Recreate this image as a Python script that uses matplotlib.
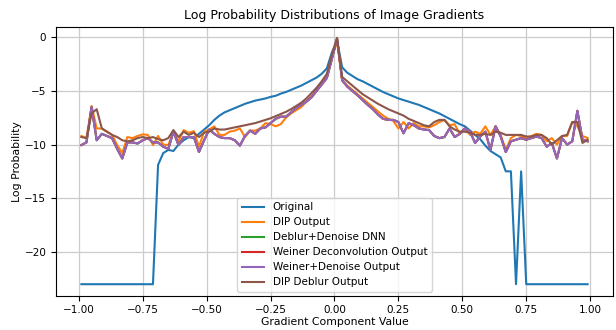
import matplotlib
matplotlib.use('Agg')
import matplotlib.pyplot as plt
import numpy as np

# bin centres of a 100-bin histogram on [-1, 1]
grad_values = np.round(np.arange(-0.99, 1.0, 0.02), 2)

original = [
    -23.03, -23.03, -23.03, -23.03, -23.03, -23.03, -23.03, -23.03, -23.03, -23.03,
    -23.03, -23.03, -23.03, -23.03, -23.03, -11.9, -10.8, -10.5, -10.6, -10.0,
    -9.6, -9.3, -9.4, -9.0, -8.6, -8.2, -7.7, -7.3, -7.0, -6.8,
    -6.6, -6.4, -6.2, -6.05, -5.9, -5.8, -5.7, -5.55, -5.45, -5.25,
    -5.1, -4.9, -4.7, -4.5, -4.25, -4.0, -3.75, -3.4, -2.9, -1.4,
    -0.3, -2.8, -3.3, -3.6, -3.9, -4.1, -4.35, -4.6, -4.85, -5.1,
    -5.3, -5.5, -5.7, -5.85, -6.0, -6.15, -6.3, -6.5, -6.7, -6.9,
    -7.1, -7.35, -7.6, -7.85, -8.1, -8.3, -8.7, -9.1, -9.5, -10.1,
    -10.6, -10.9, -11.2, -12.5, -12.5, -23.03, -12.5, -23.03, -23.03, -23.03,
    -23.03, -23.03, -23.03, -23.03, -23.03, -23.03, -23.03, -23.03, -23.03, -23.03,
]

dip_output = [
    -9.2, -9.4, -6.4, -8.5, -8.5, -8.8, -9.1, -10.05, -10.8, -9.3,
    -9.4, -9.2, -9.05, -9.1, -10.05, -9.2, -10.0, -10.05, -8.9, -9.7,
    -8.65, -8.9, -8.75, -10.2, -8.8, -8.6, -8.3, -9.1, -9.1, -8.8,
    -8.7, -8.5, -9.3, -8.7, -8.7, -8.5, -8.0, -8.1, -8.3, -8.1,
    -7.5, -7.1, -6.8, -6.5, -6.0, -5.5, -4.9, -4.3, -3.7, -1.8,
    -0.4, -4.0, -4.5, -4.9, -5.3, -5.7, -6.1, -6.5, -6.9, -7.3,
    -7.6, -7.8, -8.5, -7.9, -8.5, -8.0, -8.3, -8.3, -8.4, -8.2,
    -7.9, -7.7, -8.2, -8.1, -9.0, -8.5, -9.1, -8.8, -9.0, -8.3,
    -9.1, -8.3, -9.1, -10.5, -9.4, -9.1, -9.2, -9.4, -9.2, -9.0,
    -9.1, -9.7, -9.4, -10.0, -9.2, -9.2, -7.9, -8.3, -9.2, -9.4,
]

weiner_denoise = [
    -10.05, -9.8, -6.5, -9.6, -9.0, -9.2, -9.4, -10.4, -11.3, -9.8,
    -9.8, -9.9, -9.6, -9.4, -9.8, -9.8, -10.2, -10.4, -8.8, -10.05,
    -9.3, -9.3, -9.3, -10.7, -9.6, -8.6, -9.0, -9.3, -9.4, -9.4,
    -9.6, -10.1, -9.2, -8.7, -9.0, -8.5, -8.4, -8.0, -7.6, -7.4,
    -7.4, -7.0, -6.6, -6.3, -6.0, -5.6, -5.0, -4.4, -3.8, -2.0,
    -0.1, -4.0, -4.6, -5.0, -5.4, -5.85, -6.3, -6.7, -7.2, -7.6,
    -7.7, -7.7, -7.9, -8.95, -8.0, -8.2, -8.5, -8.6, -8.65, -9.2,
    -9.4, -9.3, -8.5, -9.3, -9.0, -8.5, -8.8, -9.85, -9.25, -8.8,
    -10.5, -8.3, -9.25, -10.7, -9.7, -9.55, -9.4, -9.55, -9.4, -9.25,
    -9.4, -10.2, -9.85, -11.3, -9.4, -10.0, -9.7, -6.85, -9.55, -9.7,
]

# these two sit underneath the Weiner+Denoise curve in the reference
deblur_denoise_dnn = list(weiner_denoise)
weiner_deconv = list(weiner_denoise)

dip_deblur = [
    -9.3, -9.4, -7.1, -6.7, -8.5, -8.8, -9.1, -9.3, -9.6, -9.7,
    -9.6, -9.4, -9.3, -9.4, -9.3, -9.5, -9.6, -9.4, -8.65, -9.3,
    -8.8, -9.1, -8.9, -9.3, -8.9, -8.8, -8.5, -8.6, -8.6, -8.5,
    -8.4, -8.3, -8.2, -8.1, -8.0, -7.85, -7.7, -7.55, -7.35, -7.15,
    -6.95, -6.7, -6.4, -6.1, -5.7, -5.2, -4.7, -4.1, -3.4, -1.6,
    -0.05, -3.7, -4.1, -4.5, -4.9, -5.3, -5.6, -5.9, -6.2, -6.45,
    -6.7, -6.9, -7.1, -7.3, -7.6, -7.8, -8.0, -8.2, -8.3, -7.9,
    -7.7, -7.7, -8.3, -8.6, -8.8, -8.8, -8.9, -9.1, -9.1, -9.0,
    -9.1, -8.8, -8.9, -9.1, -9.1, -9.1, -9.1, -9.25, -9.25, -9.1,
    -9.1, -9.4, -10.0, -9.6, -9.2, -9.1, -7.9, -7.9, -9.85, -9.55,
]

series = [
    ('Original', original),
    ('DIP Output', dip_output),
    ('Deblur+Denoise DNN', deblur_denoise_dnn),
    ('Weiner Deconvolution Output', weiner_deconv),
    ('Weiner+Denoise Output', weiner_denoise),
    ('DIP Deblur Output', dip_deblur),
]

fig = plt.figure(figsize=(6.16, 3.30), dpi=100)
ax = fig.add_axes([0.091, 0.104, 0.904, 0.813])

for label, vals in series:
    ax.plot(grad_values, vals, label=label, linewidth=1.5)

ax.set_xlim(-1.089, 1.089)
ax.set_ylim(-24.1, 0.93)
ax.set_xticks([-1.0, -0.75, -0.5, -0.25, 0.0, 0.25, 0.5, 0.75, 1.0])
ax.set_yticks([0, -5, -10, -15, -20])
ax.tick_params(labelsize=7.5)
ax.grid(True, color='#cccccc', linewidth=0.9)

ax.set_title('Log Probability Distributions of Image Gradients', fontsize=9)
ax.set_xlabel('Gradient Component Value', fontsize=7.8, labelpad=1)
ax.set_ylabel('Log Probability', fontsize=7.8, labelpad=2)
ax.legend(loc='lower center', fontsize=7.5, handlelength=2.2,
          labelspacing=0.48, borderaxespad=0.4)

plt.savefig('out.png', dpi=100)
plt.close()
